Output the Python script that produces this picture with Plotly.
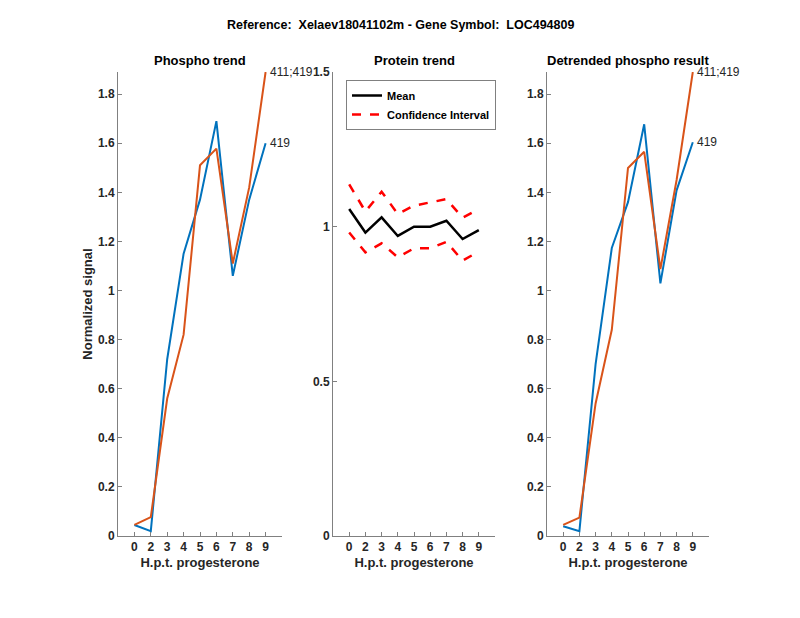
import plotly.graph_objects as go

# ---- data ----
hpt_labels = ["0", "2", "3", "4", "5", "6", "7", "8", "9"]
phospho_419 = [0.045, 0.02, 0.72, 1.15, 1.37, 1.69, 1.06, 1.37, 1.60]
phospho_411_419 = [0.045, 0.077, 0.56, 0.82, 1.51, 1.578, 1.11, 1.42, 1.89]
protein_mean = [1.057, 0.981, 1.03, 0.97, 1.0, 1.0, 1.019, 0.96, 0.989]
protein_ci_upper = [1.137, 1.049, 1.113, 1.041, 1.068, 1.079, 1.089, 1.029, 1.057]
protein_ci_lower = [0.981, 0.917, 0.946, 0.901, 0.93, 0.93, 0.951, 0.89, 0.92]
detr_419 = [0.04, 0.02, 0.70, 1.173, 1.36, 1.677, 1.029, 1.408, 1.604]
detr_411_419 = [0.045, 0.075, 0.54, 0.84, 1.499, 1.565, 1.087, 1.45, 1.89]
series_names = ["419", "411;419"]
y_ticks_phospho = [0, 0.2, 0.4, 0.6, 0.8, 1, 1.2, 1.4, 1.6, 1.8]
y_ticks_protein = [0, 0.5, 1, 1.5]

xpos = list(range(1, len(hpt_labels) + 1))

BLUE = "#0072BD"
ORANGE = "#D95319"
AXC = "#808080"
TXT = "#262626"
FONT = "Liberation Sans, Arial, sans-serif"

fig = go.Figure()

# left panel
fig.add_trace(go.Scatter(x=xpos, y=phospho_419, mode="lines", line=dict(color=BLUE, width=2),
                         showlegend=False, xaxis="x", yaxis="y"))
fig.add_trace(go.Scatter(x=xpos, y=phospho_411_419, mode="lines", line=dict(color=ORANGE, width=2),
                         showlegend=False, xaxis="x", yaxis="y"))
# middle panel
fig.add_trace(go.Scatter(x=xpos, y=protein_mean, mode="lines", name="<b>Mean</b>",
                         line=dict(color="black", width=2.5), xaxis="x2", yaxis="y2"))
fig.add_trace(go.Scatter(x=xpos, y=protein_ci_upper, mode="lines", name="<b>Confidence Interval</b>",
                         line=dict(color="red", width=2.5, dash="dash"), xaxis="x2", yaxis="y2"))
fig.add_trace(go.Scatter(x=xpos, y=protein_ci_lower, mode="lines", showlegend=False,
                         line=dict(color="red", width=2.5, dash="dash"), xaxis="x2", yaxis="y2"))
# right panel
fig.add_trace(go.Scatter(x=xpos, y=detr_419, mode="lines", line=dict(color=BLUE, width=2),
                         showlegend=False, xaxis="x3", yaxis="y3"))
fig.add_trace(go.Scatter(x=xpos, y=detr_411_419, mode="lines", line=dict(color=ORANGE, width=2),
                         showlegend=False, xaxis="x3", yaxis="y3"))

ydom = [(618 - 536) / 618, (618 - 72) / 618]
xdoms = [[118 / 800, 282 / 800], [333 / 800, 495 / 800], [547 / 800, 709 / 800]]

def fmt(v):
    return "<b>%s</b>" % (f"{v:g}")

def xaxis(dom, anchor):
    return dict(domain=dom, anchor=anchor, range=[0, 10], tickvals=xpos,
                ticktext=["<b>%s</b>" % t for t in hpt_labels], automargin=False,
                ticks="inside", ticklen=4, tickcolor=AXC, showline=True, linecolor=AXC, linewidth=1,
                showgrid=False, zeroline=False,
                tickfont=dict(family=FONT, size=12, color=TXT),
                title=dict(text="<b>H.p.t. progesterone</b>", font=dict(family=FONT, size=13, color=TXT), standoff=4))

def yaxis(anchor, rng, tv):
    return dict(domain=ydom, anchor=anchor, range=rng, tickvals=tv, ticktext=[fmt(v) for v in tv],
                automargin=False,
                ticks="inside", ticklen=4, tickcolor=AXC, showline=True, linecolor=AXC, linewidth=1,
                showgrid=False, zeroline=False,
                tickfont=dict(family=FONT, size=12, color=TXT))

y1 = yaxis("x", [0, 1.89], y_ticks_phospho)
y1["title"] = dict(text="<b>Normalized signal</b>", font=dict(family=FONT, size=13, color=TXT), standoff=2)
y2 = yaxis("x2", [0, 1.5], y_ticks_protein)
y3 = yaxis("x3", [0, 1.89], y_ticks_phospho)

annotations = [
    dict(text="<b>Reference:  Xelaev18041102m - Gene Symbol:  LOC494809</b>", x=0.5, y=(618 - 25) / 618,
         xref="paper", yref="paper", showarrow=False, xanchor="center", yanchor="middle",
         font=dict(family=FONT, size=12.5, color="black")),
]

titles = ["Phospho trend", "Protein trend", "Detrended phospho result"]
for i, t in enumerate(titles):
    annotations.append(dict(text="<b>%s</b>" % t, x=sum(xdoms[i]) / 2, y=(618 - 61) / 618,
                            xref="paper", yref="paper", showarrow=False, xanchor="center", yanchor="middle",
                            font=dict(family=FONT, size=13, color="black")))

for xr, yr, s419, s411 in [("x", "y", phospho_419, phospho_411_419), ("x3", "y3", detr_419, detr_411_419)]:
    annotations.append(dict(text=series_names[1], x=xpos[-1], y=s411[-1], xref=xr, yref=yr, showarrow=False,
                            xanchor="left", xshift=2, font=dict(family=FONT, size=12, color=TXT)))
    annotations.append(dict(text=series_names[0], x=xpos[-1], y=s419[-1], xref=xr, yref=yr, showarrow=False,
                            xanchor="left", xshift=2, font=dict(family=FONT, size=12, color=TXT)))

fig.update_layout(
    width=800, height=618,
    margin=dict(l=0, r=0, t=0, b=0, autoexpand=False),
    paper_bgcolor="white", plot_bgcolor="white",
    xaxis=xaxis(xdoms[0], "y"),
    xaxis2=xaxis(xdoms[1], "y2"),
    xaxis3=xaxis(xdoms[2], "y3"),
    yaxis=y1, yaxis2=y2, yaxis3=y3,
    annotations=annotations,
    showlegend=True,
    legend=dict(x=346 / 800, y=(618 - 80) / 618, xanchor="left", yanchor="top",
                bgcolor="white", bordercolor=AXC, borderwidth=1,
                font=dict(family=FONT, size=11, color="black"),
                itemwidth=30, tracegroupgap=0),
)

fig.write_html("out.html", config={"displayModeBar": False},
               post_script="document.body.style.margin='0';document.body.style.overflow='hidden';")
